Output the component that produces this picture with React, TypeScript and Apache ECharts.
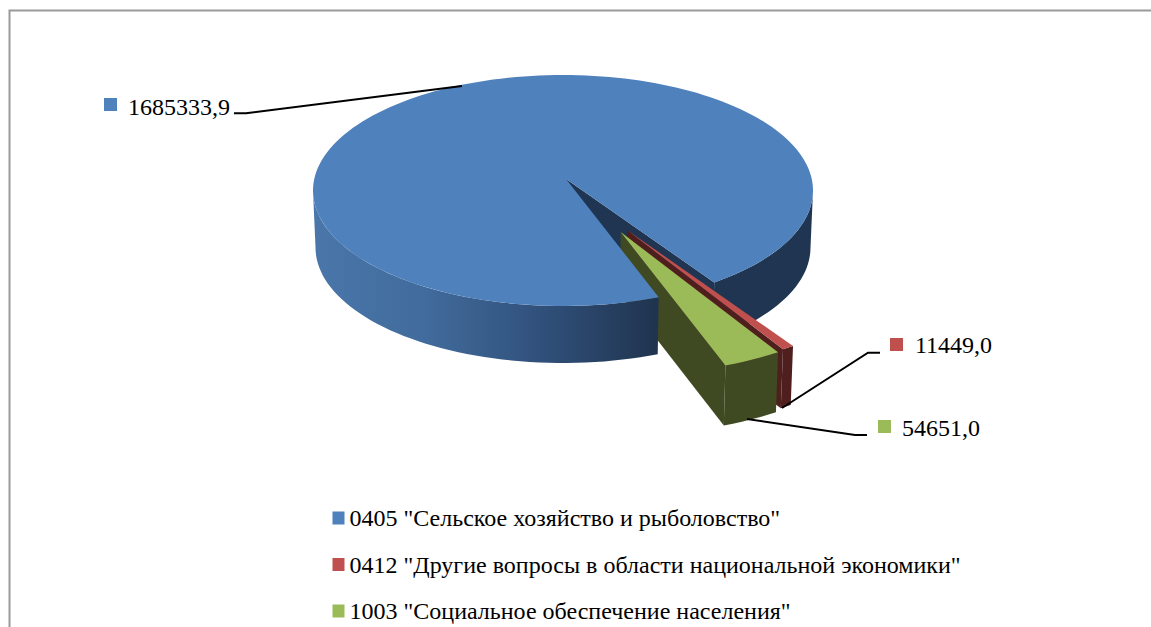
import React, { useEffect, useRef } from "react";
import * as echarts from "echarts";

const categories = [
  '0405 "Сельское хозяйство и рыболовство"',
  '0412 "Другие вопросы в области национальной экономики"',
  '1003 "Социальное обеспечение населения"',
];
const values = [1685333.9, 11449.0, 54651.0];
const colors = ["#4f81bd", "#c0504d", "#9bbb59"];
const wallColors = ["#1f3552", "#4f1f1e", "#3f4a22"];

const FONT = '"Liberation Serif", "Times New Roman", serif';
const total = values.reduce((a, b) => a + b, 0);
const START = 56.5; // screen angle where the first small slice begins
const ELL = { cx: 563, cy: 190.5, rx: 250, ry: 115.5 };
const DEPTH = 57;
const LEAN = 0.99;

const spans = (() => {
  const red = (values[1] / total) * 360;
  const green = (values[2] / total) * 360;
  return {
    red: [START, START + red],
    green: [START + red, START + red + green],
    blue: [START + red + green, START + 360],
  };
})();

type Geo = { ax: number; ay: number; s: number };
const BLUE: Geo = { ax: 566, ay: 179, s: 1 };
const RED: Geo = { ax: 627, ay: 230, s: 1.12 };
const GREEN: Geo = { ax: 620.7, ay: 232, s: 1.13 };

// Angles at which the disc's outline is vertical, seen from the off-centre apex
const RIGHT_TANGENT =
  (Math.atan2((ELL.cy - BLUE.ay) / ELL.ry, (ELL.cx + ELL.rx - BLUE.ax) / ELL.rx) * 180) / Math.PI;
const LEFT_TANGENT =
  (Math.atan2((ELL.cy - BLUE.ay) / ELL.ry, (ELL.cx - ELL.rx - BLUE.ax) / ELL.rx) * 180) / Math.PI;

function hit(g: Geo, deg: number): number[] {
  const t = (deg * Math.PI) / 180;
  const dx = Math.cos(t);
  const dy = Math.sin(t);
  const px = (BLUE.ax - ELL.cx) / ELL.rx;
  const py = (BLUE.ay - ELL.cy) / ELL.ry;
  const b = px * dx + py * dy;
  const c = px * px + py * py - 1;
  const r = (-b + Math.sqrt(b * b - c)) * g.s;
  return [g.ax + r * dx * ELL.rx, g.ay + r * dy * ELL.ry];
}
const down = (p: number[], d = DEPTH): number[] => [ELL.cx + (p[0] - ELL.cx) * LEAN, p[1] + d];
function arc(g: Geo, a: number, b: number): number[][] {
  const n = Math.max(2, Math.ceil(Math.abs(b - a) / 2));
  const out: number[][] = [];
  for (let i = 0; i <= n; i++) out.push(hit(g, a + ((b - a) * i) / n));
  return out;
}
const poly = (points: number[][], fill: any) => ({
  type: "polygon",
  shape: { points },
  style: { fill, stroke: "none" },
});
function wall(top: number[][], fill: any, d = DEPTH) {
  return poly([...top, ...top.slice().reverse().map((p) => down(p, d))], fill);
}
const apex = (g: Geo) => [g.ax, g.ay];
const fmt = (v: number) => v.toFixed(1).replace(".", ",");

function label(i: number, mx: number, my: number, tx: number, ty: number, leader: number[][]) {
  return [
    { type: "rect", shape: { x: mx, y: my, width: 13, height: 13 }, style: { fill: colors[i] } },
    {
      type: "text",
      x: tx,
      y: ty,
      style: { text: fmt(values[i]), font: `24px ${FONT}`, fill: "#000", textVerticalAlign: "middle" },
    },
    { type: "polyline", shape: { points: leader }, style: { stroke: "#000", lineWidth: 2, fill: "none" } },
  ];
}

function renderBlueBack() {
  const e1 = hit(BLUE, START);
  const gap = [apex(BLUE), e1];
  return {
    type: "group",
    children: [
      wall(arc(BLUE, RIGHT_TANGENT, START), wallColors[0]),
      wall(gap, wallColors[0]),
    ],
  };
}
function renderRed() {
  const [a, b] = spans.red;
  const d = 59;
  return {
    type: "group",
    children: [
      wall([apex(RED), hit(RED, b)], wallColors[1], d),
      wall(arc(RED, a, b), wallColors[1], d),
      poly([apex(RED), ...arc(RED, a, b)], colors[1]),
      ...label(1, 890, 338, 915, 345, [[782, 408], [868, 352.7], [880, 352.7]]),
    ],
  };
}
function renderGreen() {
  const [a, b] = spans.green;
  const d = 60;
  return {
    type: "group",
    children: [
      wall([apex(GREEN), hit(GREEN, b)], wallColors[2], d),
      wall(arc(GREEN, a, b), wallColors[2], d),
      poly([apex(GREEN), ...arc(GREEN, a, b)], colors[2]),
      ...label(2, 878, 420, 902, 428, [[747, 419], [855, 435], [867, 435]]),
    ],
  };
}
function renderBlueTop() {
  const [a, b] = spans.blue;
  const grad = new echarts.graphic.LinearGradient(
    313, 0, 656, 0,
    [
      { offset: 0, color: "#4a76aa" },
      { offset: 0.33, color: "#416b9c" },
      { offset: 0.67, color: "#30507a" },
      { offset: 1, color: "#20344f" },
    ],
    true
  );
  return {
    type: "group",
    children: [
      wall(arc(BLUE, a, LEFT_TANGENT), grad),
      poly([apex(BLUE), ...arc(BLUE, a, b)], colors[0]),
      ...label(0, 104, 98, 128, 107, [[234, 113.3], [246, 113.3], [462, 86]]),
    ],
  };
}

export default function App() {
  const ref = useRef<HTMLDivElement>(null);
  useEffect(() => {
    const chart = echarts.init(ref.current!, null, { renderer: "svg" });
    const mk = (name: string, color: string, renderItem: any, value: number) => ({
      type: "custom",
      name,
      coordinateSystem: "none",
      itemStyle: { color },
      renderItem,
      data: [[value]],
      silent: true,
    });
    chart.setOption({
      animation: false,
      backgroundColor: "#ffffff",
      legend: {
        data: categories,
        orient: "vertical",
        left: 332.5,
        top: 506,
        padding: 0,
        icon: "rect",
        itemWidth: 12,
        itemHeight: 13,
        itemGap: 22.5,
        textStyle: { fontFamily: FONT, fontSize: 24, color: "#000" },
        selectedMode: false,
      },
      graphic: [
        {
          type: "polyline",
          shape: { points: [[9.5, 627], [9.5, 10.5], [1151, 10.5]] },
          style: { stroke: "#9a9a9a", lineWidth: 2, fill: "none" },
        },
      ],
      series: [
        mk(categories[0], colors[0], renderBlueBack, values[0]),
        mk(categories[1], colors[1], renderRed, values[1]),
        mk(categories[2], colors[2], renderGreen, values[2]),
        mk(categories[0], colors[0], renderBlueTop, values[0]),
      ],
    });
    return () => chart.dispose();
  }, []);
  return <div ref={ref} style={{ position: "absolute", left: 0, top: 0, width: 1151, height: 627 }} />;
}
